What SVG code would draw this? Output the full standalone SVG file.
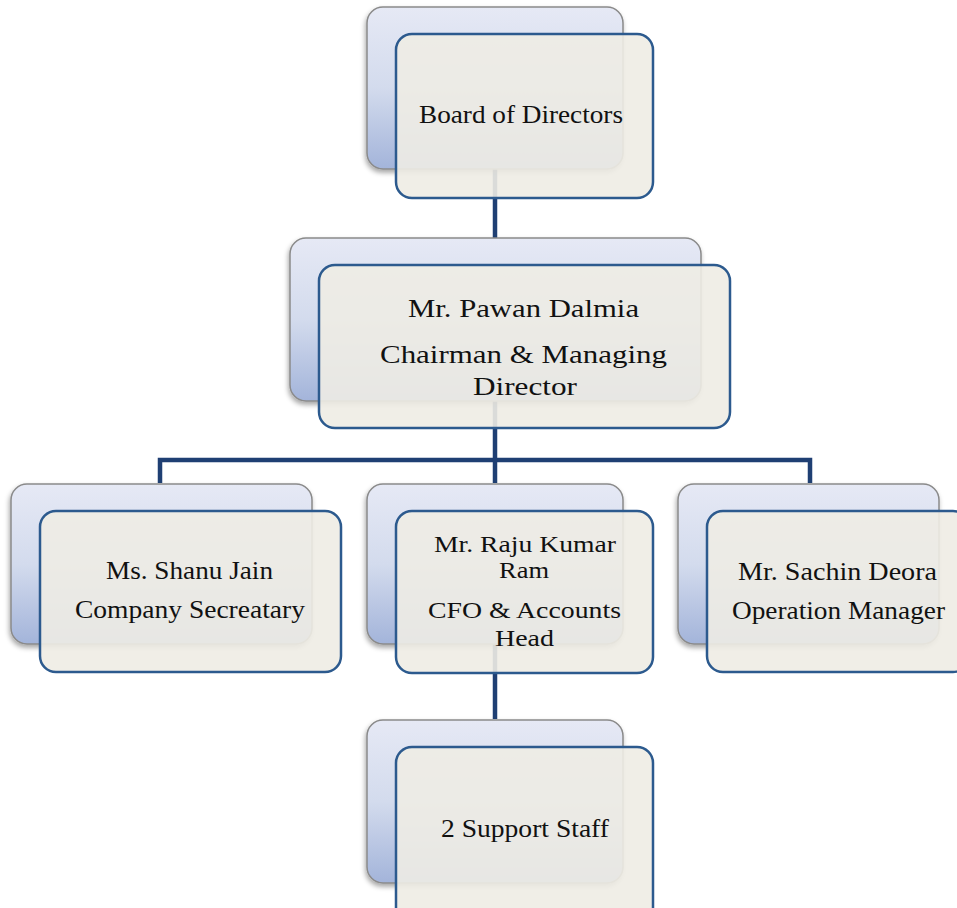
<svg xmlns="http://www.w3.org/2000/svg" width="957" height="908" viewBox="0 0 957 908">
<defs>
<linearGradient id="bg" x1="0" y1="0" x2="0" y2="1">
<stop offset="0" stop-color="#e6e9f5"/>
<stop offset="0.5" stop-color="#d3dbed"/>
<stop offset="1" stop-color="#a3b4da"/>
</linearGradient>
<filter id="sh" x="-10%" y="-10%" width="120%" height="125%">
<feDropShadow dx="-1" dy="3" stdDeviation="2.5" flood-color="#000" flood-opacity="0.35"/>
</filter>
</defs>
<style>
.back{fill:url(#bg);stroke:#8a8a8a;stroke-width:1.5;filter:url(#sh)}
.front{fill:#eeece4;fill-opacity:0.9;stroke:#2c5a8e;stroke-width:2.5}
.con{stroke:#1f3f73;stroke-width:4.5;fill:none}
.t{font-family:'Liberation Serif','DejaVu Serif','Times New Roman',serif;font-size:26px;fill:#111}
.s{font-size:23px}
</style>
<rect width="957" height="908" fill="#ffffff"/>
<g id="connectors">
<line class="con" x1="495" y1="168" x2="495" y2="264"/>
<polyline class="con" points="160,483 160,460 810,460 810,483"/>
<line class="con" x1="495" y1="401" x2="495" y2="483"/>
<line class="con" x1="495" y1="644" x2="495" y2="719"/>
</g>
<g id="board">
<rect class="back" x="367" y="7" width="256" height="162" rx="16"/>
<rect class="front" x="396" y="34" width="257" height="164" rx="16"/>
<text class="t" x="419" y="123" textLength="204" lengthAdjust="spacingAndGlyphs">Board of Directors</text>
</g>
<g id="pawan">
<rect class="back" x="290" y="238" width="411" height="163" rx="16"/>
<rect class="front" x="319" y="265" width="411" height="163" rx="16"/>
<text class="t" x="408" y="317" textLength="231" lengthAdjust="spacingAndGlyphs">Mr. Pawan Dalmia</text>
<text class="t" x="380" y="363" textLength="287" lengthAdjust="spacingAndGlyphs">Chairman &amp; Managing</text>
<text class="t" x="473" y="395" textLength="104" lengthAdjust="spacingAndGlyphs">Director</text>
</g>
<g id="shanu">
<rect class="back" x="11" y="484" width="301" height="160" rx="16"/>
<rect class="front" x="40" y="511" width="301" height="161" rx="16"/>
<text class="t" x="106" y="579" textLength="167" lengthAdjust="spacingAndGlyphs">Ms. Shanu Jain</text>
<text class="t" x="75" y="618" textLength="230" lengthAdjust="spacingAndGlyphs">Company Secreatary</text>
</g>
<g id="raju">
<rect class="back" x="367" y="484" width="256" height="160" rx="16"/>
<rect class="front" x="396" y="511" width="257" height="162" rx="16"/>
<text class="t s" x="434" y="552" textLength="182" lengthAdjust="spacingAndGlyphs">Mr. Raju Kumar</text>
<text class="t s" x="499" y="578" textLength="50" lengthAdjust="spacingAndGlyphs">Ram</text>
<text class="t s" x="428" y="618" textLength="193" lengthAdjust="spacingAndGlyphs">CFO &amp; Accounts</text>
<text class="t s" x="495" y="646" textLength="59" lengthAdjust="spacingAndGlyphs">Head</text>
</g>
<g id="sachin">
<rect class="back" x="678" y="484" width="261" height="160" rx="16"/>
<rect class="front" x="707" y="511" width="262" height="161" rx="16"/>
<text class="t" x="738" y="580" textLength="199" lengthAdjust="spacingAndGlyphs">Mr. Sachin Deora</text>
<text class="t" x="732" y="619" textLength="213" lengthAdjust="spacingAndGlyphs">Operation Manager</text>
</g>
<g id="support">
<rect class="back" x="367" y="720" width="256" height="163" rx="16"/>
<rect class="front" x="396" y="747" width="257" height="180" rx="16"/>
<text class="t" x="441" y="837" textLength="168" lengthAdjust="spacingAndGlyphs">2 Support Staff</text>
</g>
</svg>
